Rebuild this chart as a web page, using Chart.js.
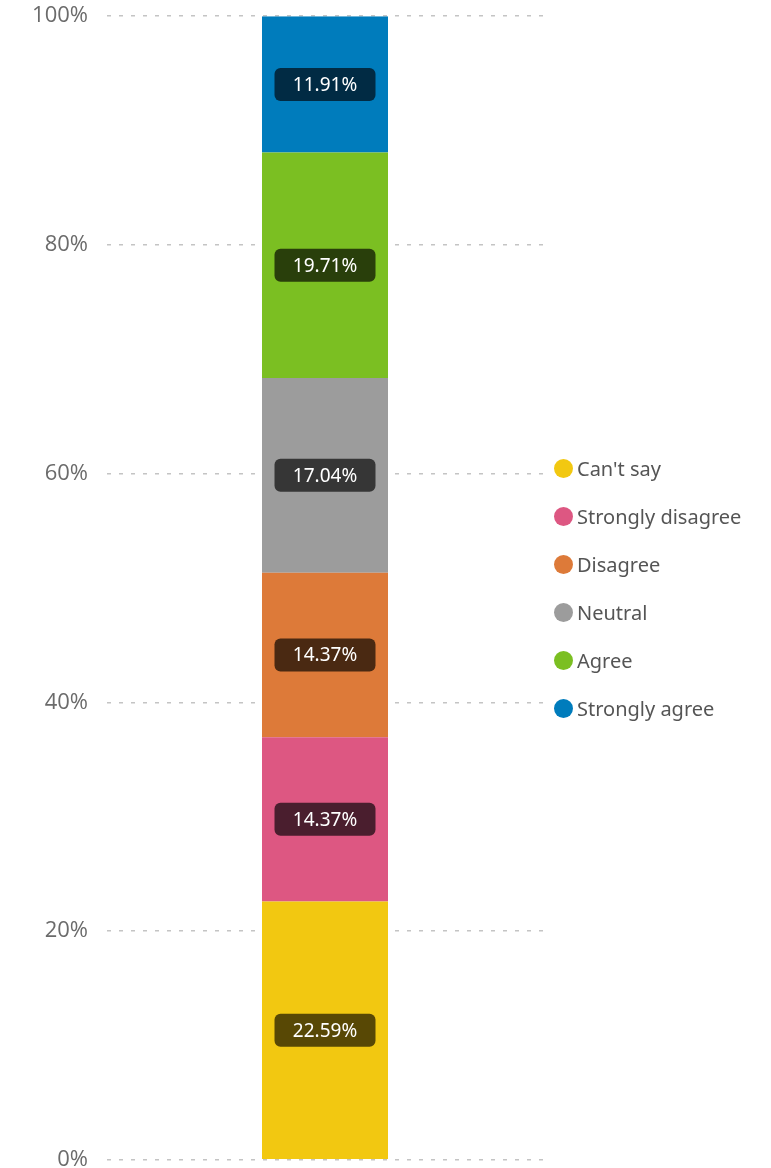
<!DOCTYPE html>
<html>
<head>
<meta charset="utf-8">
<script src="https://cdn.jsdelivr.net/npm/chart.js@4.4.1/dist/chart.umd.min.js"></script>
<style>
  html, body { margin:0; padding:0; background:#fff; overflow:hidden; height:1168px; }
  #wrap { position:relative; width:771px; height:1208px; margin-top:-16px; }
  #legend { position:absolute; left:554px; top:471px; font-family:"Noto Sans", sans-serif; font-size:20px; color:#555; }
  .item { height:48px; display:flex; align-items:flex-start; }
  .dot { width:19px; height:19px; border-radius:50%; margin-top:4px; margin-right:4px; }
</style>
</head>
<body>
<div id="wrap">
  <canvas id="chart"></canvas>
  <div id="legend"></div>
</div>
<script>
/* ==========================================
   DATA
========================================== */

const categories = ["Response"];

const seriesNames = [
    "Can't say",
    "Strongly disagree",
    "Disagree",
    "Neutral",
    "Agree",
    "Strongly agree"
];

const seriesValues = [22.59, 14.37, 14.37, 17.04, 19.71, 11.91];

const seriesColors = ["#F2C811", "#DD5782", "#DD7A39", "#9C9C9C", "#7BBF22", "#007CBC"];

const labelBoxColors = ["#584805", "#4A1E2E", "#4A2912", "#363636", "#293F0B", "#012B44"];

const yTicks = [0, 20, 40, 60, 80, 100];

/* ==========================================
   LABEL PLUGIN
========================================== */

const boxLabels = {

    id:"boxLabels",

    afterDatasetsDraw(chart){

        const ctx = chart.ctx;

        ctx.save();
        ctx.font = "19px 'Noto Sans', sans-serif";
        ctx.textAlign = "center";
        ctx.textBaseline = "middle";

        chart.data.datasets.forEach((ds,i)=>{

            const meta = chart.getDatasetMeta(i);

            meta.data.forEach((bar,j)=>{

                const txt = ds.data[j].toFixed(2) + "%";
                const cx = bar.x;
                const cy = (bar.y + bar.base) / 2;
                const w = 101, h = 33;

                ctx.fillStyle = labelBoxColors[i];
                ctx.beginPath();
                ctx.roundRect(cx - w/2, cy - h/2, w, h, 6);
                ctx.fill();

                ctx.fillStyle = "#fff";
                ctx.fillText(txt, cx, cy + 1);

            });

        });

        ctx.restore();

    }

};

/* ==========================================
   CHART
========================================== */

const ctx = document.getElementById("chart").getContext("2d");

new Chart(ctx,{

    type:"bar",

    data:{

        labels:categories,

        datasets:seriesNames.map((name,i)=>({
            label:name,
            data:[seriesValues[i]],
            backgroundColor:seriesColors[i],
            borderWidth:0,
            categoryPercentage:1,
            barPercentage:0.289
        }))

    },

    options:{

        responsive:true,

        maintainAspectRatio:false,

        animation:false,

        layout:{
            padding:{ top:4, right:228, bottom:0, left:0 }
        },

        plugins:{
            legend:{ display:false },
            tooltip:{ enabled:false }
        },

        scales:{

            x:{
                stacked:true,
                display:false
            },

            y:{
                stacked:true,
                min:0,
                max:100,
                afterBuildTicks:s=>{ s.ticks = yTicks.map(v=>({value:v})); },
                afterFit:s=>{ s.width = 107; },
                ticks:{
                    color:"#6b6b6b",
                    padding:19,
                    font:{ family:"'Open Sans', sans-serif", size:22 },
                    callback:v=>v+"%"
                },
                grid:{
                    color:"#c4c4c4",
                    lineWidth:1.5,
                    drawTicks:false
                },
                border:{
                    display:false,
                    dash:[4,8]
                }
            }

        }

    },

    plugins:[boxLabels]

});

/* ==========================================
   LEGEND
========================================== */

const legend = document.getElementById("legend");

seriesNames.forEach((name,i)=>{

    const row = document.createElement("div");
    row.className = "item";

    const dot = document.createElement("span");
    dot.className = "dot";
    dot.style.background = seriesColors[i];

    const txt = document.createElement("span");
    txt.textContent = name;

    row.appendChild(dot);
    row.appendChild(txt);
    legend.appendChild(row);

});
</script>
</body>
</html>
